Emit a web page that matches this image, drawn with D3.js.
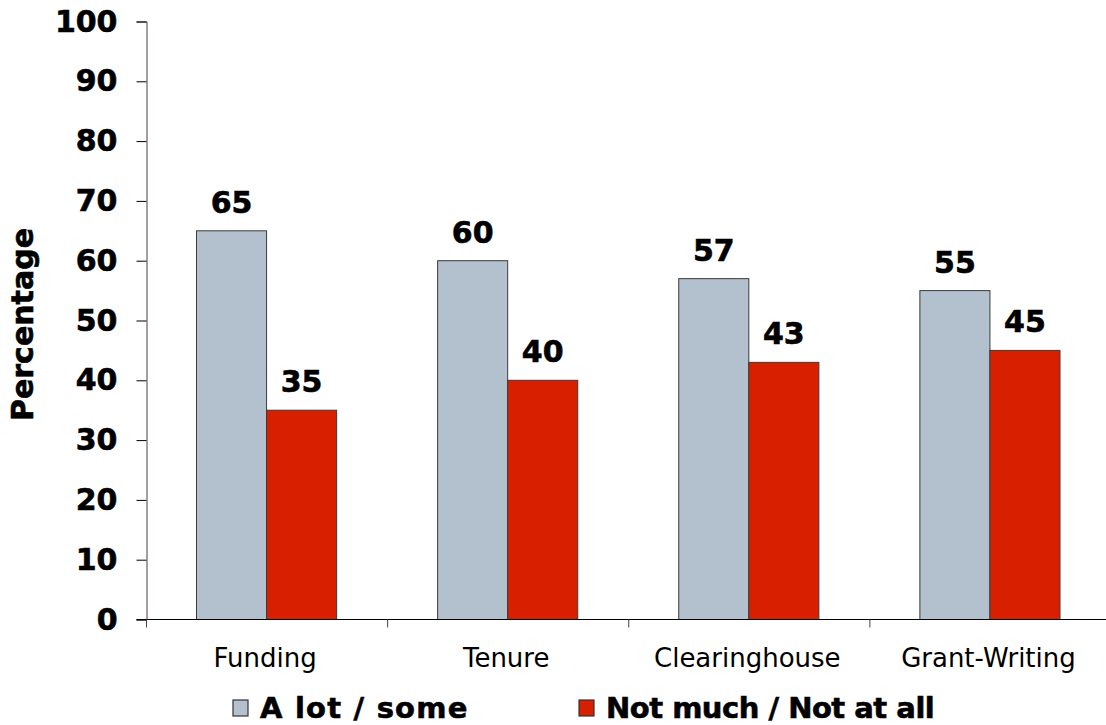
<!DOCTYPE html>
<html>
<head>
<meta charset="utf-8">
<script src="https://cdn.jsdelivr.net/npm/d3@7"></script>
<style>
  html, body { margin: 0; padding: 0; background: #fff; }
  svg { display: block; font-family: "DejaVu Sans", Verdana, sans-serif; }
  .heavy { stroke: #000; stroke-width: 0.6px; }
</style>
</head>
<body>
<svg id="chart" width="1106" height="725"></svg>
<script>
// Survey responses by area of support (percent)
const categories = ["Funding", "Tenure", "Clearinghouse", "Grant-Writing"];
const seriesNames = ["A lot / some", "Not much / Not at all"];
const aLotSome = [65, 60, 57, 55];
const notMuch = [35, 40, 43, 45];
const yTicks = [0, 10, 20, 30, 40, 50, 60, 70, 80, 90, 100];
const colors = ["#b3c0cd", "#d82000"];

const svg = d3.select("#chart");
const margin = { left: 146.5, top: 21.5, right: -5, bottom: 105.5 };
const W = 1106, H = 725;
const innerW = W - margin.left - margin.right;
const innerH = H - margin.top - margin.bottom;

const x = d3.scaleBand().domain(categories).range([0, innerW]).paddingInner(0).paddingOuter(0);
const xs = d3.scaleBand().domain(seriesNames).range([50, x.bandwidth() - 51]);
const y = d3.scaleLinear().domain([0, 100]).range([innerH, 0]);

const g = svg.append("g").attr("transform", `translate(${margin.left},${margin.top})`);

const rows = categories.map((c, i) => ({ cat: c, vals: [aLotSome[i], notMuch[i]] }));

// bars
const groups = g.selectAll(".grp").data(rows).join("g")
  .attr("class", "grp")
  .attr("transform", d => `translate(${x(d.cat)},0)`);

groups.selectAll("rect").data(d => d.vals.map((v, k) => ({ v, k })))
  .join("rect")
  .attr("x", d => xs(seriesNames[d.k]))
  .attr("width", xs.bandwidth())
  .attr("y", d => y(d.v))
  .attr("height", d => innerH - y(d.v))
  .attr("fill", d => colors[d.k])
  .attr("stroke", "#3a3a3a")
  .attr("stroke-width", 1);

// value labels
groups.selectAll("text.val").data(d => d.vals.map((v, k) => ({ v, k })))
  .join("text")
  .attr("class", "val heavy")
  .attr("x", d => xs(seriesNames[d.k]) + xs.bandwidth() / 2)
  .attr("y", d => y(d.v) - 18)
  .attr("text-anchor", "middle")
  .attr("font-weight", "bold")
  .attr("font-size", 30)
  .attr("fill", "#000")
  .text(d => d.v);

// y axis
const yAxis = g.append("g")
  .call(d3.axisLeft(y).tickValues(yTicks).tickSize(10).tickPadding(19));
yAxis.select(".domain").attr("stroke", "#4a3f3f");
yAxis.selectAll(".tick line").attr("stroke", "#000");
yAxis.selectAll(".tick text")
  .attr("class", "heavy")
  .attr("font-family", "DejaVu Sans, Verdana, sans-serif")
  .attr("font-size", 30).attr("font-weight", "bold").attr("fill", "#000");

// x axis with ticks at band boundaries
const xAxis = g.append("g").attr("transform", `translate(0,${innerH})`);
xAxis.append("line").attr("x1", -10).attr("x2", innerW).attr("stroke", "#000");
xAxis.selectAll("line.tk").data(categories).join("line")
  .attr("class", "tk")
  .attr("x1", d => x(d)).attr("x2", d => x(d))
  .attr("y1", 0).attr("y2", 8)
  .attr("stroke", "#4a3f3f");
xAxis.selectAll("text").data(categories).join("text")
  .attr("x", d => x(d) + x.bandwidth() / 2 - 2)
  .attr("y", 47)
  .attr("text-anchor", "middle")
  .attr("font-size", 26)
  .attr("fill", "#000")
  .text(d => d);

// y axis title
svg.append("text")
  .attr("class", "heavy")
  .attr("transform", `translate(33,${324.5}) rotate(-90)`)
  .attr("text-anchor", "middle")
  .attr("font-weight", "bold")
  .attr("font-size", 30)
  .attr("fill", "#000")
  .text("Percentage");

// legend
const legendX = [233, 579];
const legendLetterSpacing = [1.2, -0.5];
const legend = svg.selectAll(".lg").data(seriesNames).join("g")
  .attr("class", "lg")
  .attr("transform", (d, i) => `translate(${legendX[i]},700)`);
legend.append("rect")
  .attr("width", 15).attr("height", 16)
  .attr("fill", (d, i) => colors[i])
  .attr("stroke", "#333").attr("stroke-width", 1.2);
legend.append("text")
  .attr("class", "heavy")
  .attr("x", 27).attr("y", 17.5)
  .attr("font-weight", "bold")
  .attr("font-size", 29)
  .attr("letter-spacing", (d, i) => legendLetterSpacing[i])
  .attr("fill", "#000")
  .text(d => d);
</script>
</body>
</html>
